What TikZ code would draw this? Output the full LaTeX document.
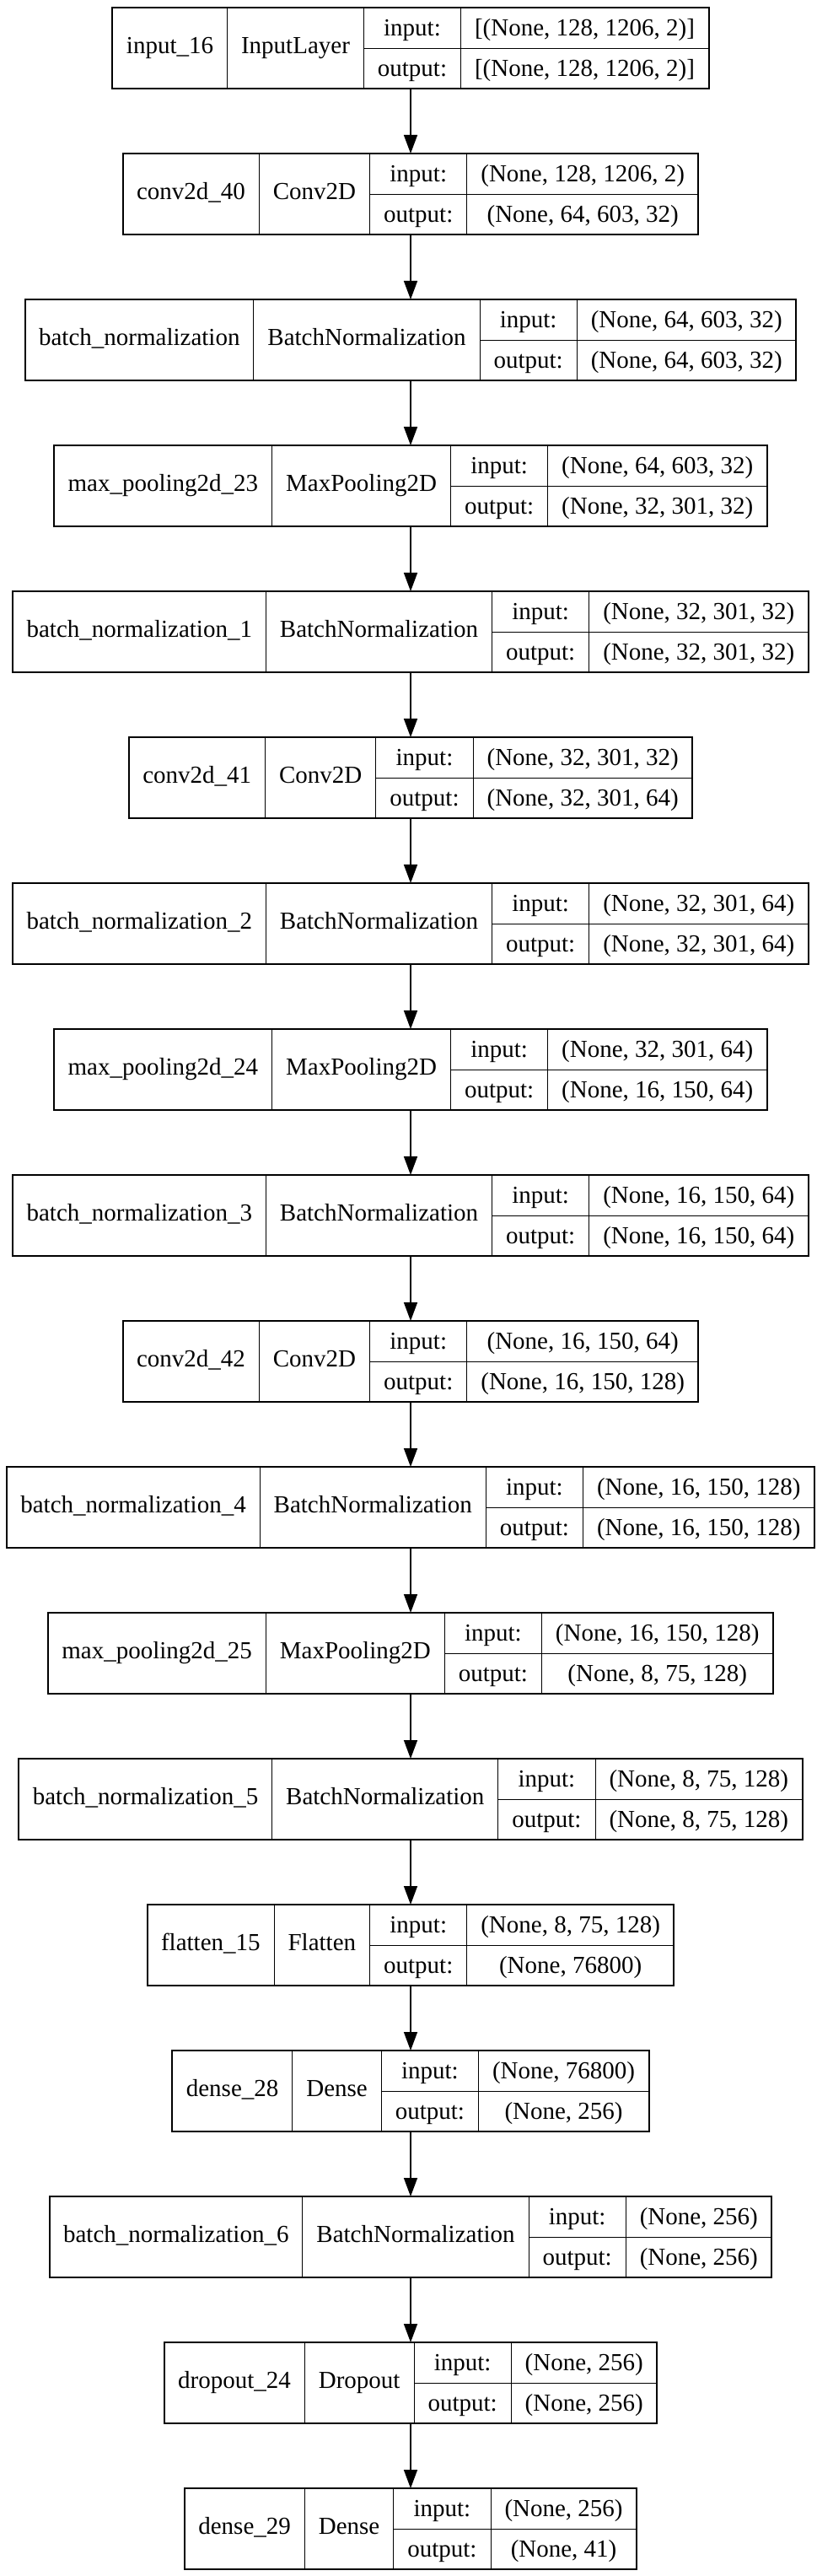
\documentclass[tikz,border=0pt]{standalone}
\usepackage{fontspec}
\setmainfont{Liberation Serif}
\usepackage{multirow}
\usetikzlibrary{arrows.meta}

\setlength{\tabcolsep}{8.25pt}
\setlength{\arrayrulewidth}{0.5pt}
\renewcommand{\arraystretch}{1.38}

% one keras layer: name, class, input shape, output shape
\newcommand{\layertab}[4]{%
  \begin{tabular}{c|c|c|c}
    \multirow{2}{*}{#1} & \multirow{2}{*}{#2} & input: & #3 \\ \cline{3-4}
     & & output: & #4
  \end{tabular}}

\begin{document}
\begin{tikzpicture}[
                    node distance=86.5pt,
                    layer/.style={rectangle, draw, line width=1pt, inner sep=0pt, outer sep=0pt, font=\fontsize{14.5pt}{17.4pt}\selectfont},
                    line/.style={draw, -{Triangle[length=11pt, width=8pt]}, line width=0.8pt}
                ]
                    \useasboundingbox (0,0) rectangle (484.5pt,-1527pt);

                    \node [layer] (input) at (243.5pt,-28.5pt) {\layertab{input\_16}{InputLayer}{[(None, 128, 1206, 2)]}{[(None, 128, 1206, 2)]}};
                    \node [layer, below of=input] (conv40) {\layertab{conv2d\_40}{Conv2D}{(None, 128, 1206, 2)}{(None, 64, 603, 32)}};
                    \node [layer, below of=conv40] (bn) {\layertab{batch\_normalization}{BatchNormalization}{(None, 64, 603, 32)}{(None, 64, 603, 32)}};
                    \node [layer, below of=bn] (pool23) {\layertab{max\_pooling2d\_23}{MaxPooling2D}{(None, 64, 603, 32)}{(None, 32, 301, 32)}};
                    \node [layer, below of=pool23] (bn1) {\layertab{batch\_normalization\_1}{BatchNormalization}{(None, 32, 301, 32)}{(None, 32, 301, 32)}};
                    \node [layer, below of=bn1] (conv41) {\layertab{conv2d\_41}{Conv2D}{(None, 32, 301, 32)}{(None, 32, 301, 64)}};
                    \node [layer, below of=conv41] (bn2) {\layertab{batch\_normalization\_2}{BatchNormalization}{(None, 32, 301, 64)}{(None, 32, 301, 64)}};
                    \node [layer, below of=bn2] (pool24) {\layertab{max\_pooling2d\_24}{MaxPooling2D}{(None, 32, 301, 64)}{(None, 16, 150, 64)}};
                    \node [layer, below of=pool24] (bn3) {\layertab{batch\_normalization\_3}{BatchNormalization}{(None, 16, 150, 64)}{(None, 16, 150, 64)}};
                    \node [layer, below of=bn3] (conv42) {\layertab{conv2d\_42}{Conv2D}{(None, 16, 150, 64)}{(None, 16, 150, 128)}};
                    \node [layer, below of=conv42] (bn4) {\layertab{batch\_normalization\_4}{BatchNormalization}{(None, 16, 150, 128)}{(None, 16, 150, 128)}};
                    \node [layer, below of=bn4] (pool25) {\layertab{max\_pooling2d\_25}{MaxPooling2D}{(None, 16, 150, 128)}{(None, 8, 75, 128)}};
                    \node [layer, below of=pool25] (bn5) {\layertab{batch\_normalization\_5}{BatchNormalization}{(None, 8, 75, 128)}{(None, 8, 75, 128)}};
                    \node [layer, below of=bn5] (flatten) {\layertab{flatten\_15}{Flatten}{(None, 8, 75, 128)}{(None, 76800)}};
                    \node [layer, below of=flatten] (dense28) {\layertab{dense\_28}{Dense}{(None, 76800)}{(None, 256)}};
                    \node [layer, below of=dense28] (bn6) {\layertab{batch\_normalization\_6}{BatchNormalization}{(None, 256)}{(None, 256)}};
                    \node [layer, below of=bn6] (dropout) {\layertab{dropout\_24}{Dropout}{(None, 256)}{(None, 256)}};
                    \node [layer, below of=dropout] (dense29) {\layertab{dense\_29}{Dense}{(None, 256)}{(None, 41)}};

                    % Edges between layers
                    \path [line] (input) -- (conv40);
                    \path [line] (conv40) -- (bn);
                    \path [line] (bn) -- (pool23);
                    \path [line] (pool23) -- (bn1);
                    \path [line] (bn1) -- (conv41);
                    \path [line] (conv41) -- (bn2);
                    \path [line] (bn2) -- (pool24);
                    \path [line] (pool24) -- (bn3);
                    \path [line] (bn3) -- (conv42);
                    \path [line] (conv42) -- (bn4);
                    \path [line] (bn4) -- (pool25);
                    \path [line] (pool25) -- (bn5);
                    \path [line] (bn5) -- (flatten);
                    \path [line] (flatten) -- (dense28);
                    \path [line] (dense28) -- (bn6);
                    \path [line] (bn6) -- (dropout);
                    \path [line] (dropout) -- (dense29);
                \end{tikzpicture}
\end{document}
